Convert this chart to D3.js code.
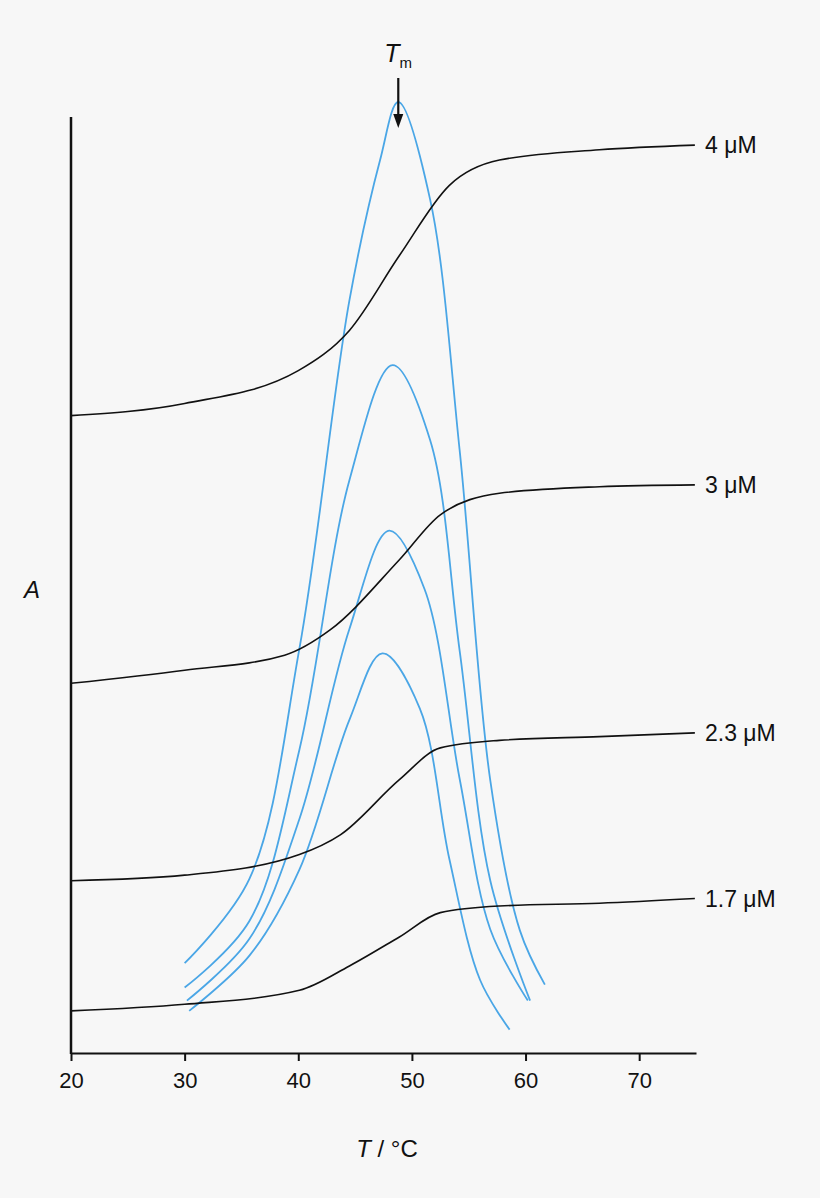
<!DOCTYPE html>
<html><head><meta charset="utf-8">
<script src="https://cdn.jsdelivr.net/npm/d3@7"></script>
<style>body{margin:0;background:#f7f7f7}svg{font-family:"Liberation Sans",Arial,sans-serif}</style>
</head><body><svg id="c" width="820" height="1198"></svg>
<script>
const xTicks=[20,30,40,50,60,70];
const concLabels=["4 μM","3 μM","2.3 μM","1.7 μM"];
const blackT=[20,30,40,44.5,48.9,53.3,57.7,66.5,74.9];
const black4=[68.1,69.4,72.9,77.2,85.2,92.7,95.4,96.5,97.0];
const black3T=[20,30,38.8,42.8,48.9,52.5,57.7,66.5,74.9];
const black3=[39.5,40.9,42.5,45.2,52.7,57.5,59.8,60.5,60.7];
const black2T=[20,30,40.1,43.7,48.9,52.5,57.7,66.5,74.9];
const black2=[18.4,19.0,21.2,23.3,29.2,32.6,33.4,33.8,34.2];
const black1T=[20,30,40.1,44.5,48.9,52.5,57.7,66.5,74.9];
const black1=[4.5,5.2,6.7,9.3,12.4,15.0,15.7,16.0,16.5];
const blue1T=[30,35.7,40.1,44.5,47.2,48.8,51.6,54.2,56.9,59.5,61.7];
const blue1=[9.6,18.6,43.2,80.4,95.4,101.6,91.2,64.4,29.1,13.1,7.3];
const blue2T=[30,35.7,40.1,44.5,48.3,51.6,54.2,56.9,60.4];
const blue2=[7.0,14.1,32.4,61.2,73.5,65.5,43.0,18.4,5.6];
const blue3T=[30.2,35.7,40.1,44.5,48.0,51.1,54.2,56.9,60.2];
const blue3=[5.6,12.2,25.0,45.3,55.8,49.6,29.3,13.2,5.6];
const blue4T=[30.4,35.7,40.1,44.5,47.4,50.7,53.3,56.0,58.6];
const blue4=[4.5,10.4,19.6,35.6,42.7,36.8,20.7,7.8,2.5];
const tmValue=48.8;

const svg=d3.select("#c");
const x=d3.scaleLinear().domain([20,75]).range([71,696]);
const y=d3.scaleLinear().domain([0,100]).range([1053,117]);
const zip=(a,b)=>a.map((t,i)=>[t,b[i]]);
const blueLine=d3.line().x(d=>x(d[0])).y(d=>y(d[1])).curve(d3.curveCatmullRom.alpha(0.5));
[[blue1T,blue1],[blue2T,blue2],[blue3T,blue3],[blue4T,blue4]].forEach(([t,v])=>{
  svg.append("path").attr("d",blueLine(zip(t,v))).attr("fill","none").attr("stroke","#4aa6e6").attr("stroke-width",1.8);
});
const bl=d3.line().x(d=>x(d[0])).y(d=>y(d[1])).curve(d3.curveMonotoneX);
const blacks=[[blackT,black4],[black3T,black3],[black2T,black2],[black1T,black1]];
blacks.forEach(([t,v],i)=>{
  svg.append("path").attr("d",bl(zip(t,v))).attr("fill","none").attr("stroke","#111").attr("stroke-width",1.6);
  svg.append("text").attr("x",705).attr("y",y(v[v.length-1])+8).attr("font-size",23).attr("fill","#111").text(concLabels[i]);
});
const ax=d3.axisBottom(x).tickValues(xTicks).tickSize(8).tickSizeOuter(0);
const g=svg.append("g").attr("transform","translate(0,1053)").call(ax);
g.select(".domain").attr("stroke","#111").attr("stroke-width",2);
g.selectAll(".tick line").attr("stroke","#111").attr("stroke-width",2);
g.selectAll("text").attr("font-size",22).attr("fill","#111").attr("dy","1.1em").style("font-family","Liberation Sans,Arial");
svg.append("line").attr("x1",71).attr("x2",71).attr("y1",117).attr("y2",1054).attr("stroke","#111").attr("stroke-width",2.5);
svg.append("text").attr("x",24).attr("y",598).attr("font-size",24).attr("font-style","italic").attr("fill","#111").text("A");
const xl=svg.append("text").attr("x",387).attr("y",1157).attr("text-anchor","middle").attr("font-size",24).attr("fill","#111");
xl.append("tspan").attr("font-style","italic").text("T");xl.append("tspan").text(" / °C");
const tx=x(tmValue);
const tm=svg.append("text").attr("x",tx-14).attr("y",62).attr("font-size",25).attr("fill","#111");
tm.append("tspan").attr("font-style","italic").text("T");
tm.append("tspan").attr("font-size",15).attr("dy",6).text("m");
svg.append("line").attr("x1",tx).attr("x2",tx).attr("y1",78).attr("y2",116).attr("stroke","#111").attr("stroke-width",2.2);
svg.append("path").attr("d",`M${tx-5},114 L${tx+5},114 L${tx},128 Z`).attr("fill","#111");
</script></body></html>
